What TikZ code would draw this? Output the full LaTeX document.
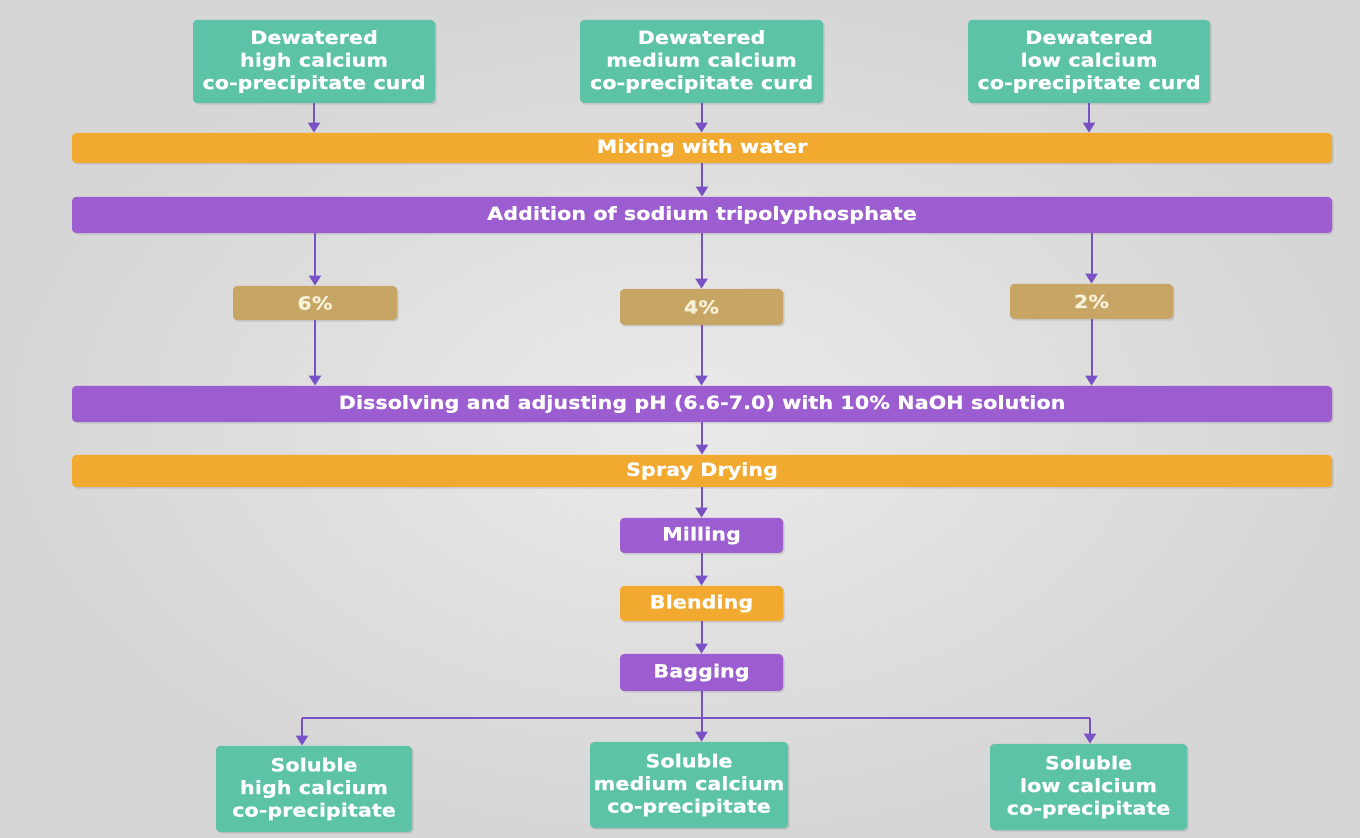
\documentclass[tikz,border=0pt]{standalone}
\usepackage{fontspec}
\setmainfont{DejaVu Sans}
\newfontfamily\boxfont[FakeStretch=1.14, BoldFeatures={FakeBold=0.6}]{DejaVu Sans}
\usetikzlibrary{arrows.meta,shadows}
\definecolor{bgin}{HTML}{EAEAEA}
\definecolor{bgout}{HTML}{D6D6D6}
\definecolor{greenc}{HTML}{5CC3A6}
\definecolor{orangec}{HTML}{F2A930}
\definecolor{purplec}{HTML}{9B5DCF}
\definecolor{tanc}{HTML}{C7A565}
\definecolor{arrowc}{HTML}{7852C4}
\definecolor{tantext}{HTML}{F7F1D6}
\tikzset{
  boxbase/.style={rounded corners=2pt, text=white, font=\boxfont\fontsize{9.1}{11.3}\selectfont\bfseries,
    align=center, inner sep=0pt,
    drop shadow={opacity=0.25, shadow xshift=0.8pt, shadow yshift=-0.8pt}},
  greenbox/.style={boxbase, fill=greenc},
  orangebox/.style={boxbase, fill=orangec},
  purplebox/.style={boxbase, fill=purplec},
  tanbox/.style={boxbase, fill=tanc, text=tantext},
  flow/.style={draw=arrowc, line width=1pt, -{Triangle[width=6pt,length=5pt]}},
  flowline/.style={draw=arrowc, line width=1pt}
}
\begin{document}
\begin{tikzpicture}[x=0.5pt,y=-0.5pt]
\useasboundingbox (0,0) rectangle (1360,838);
\shade[inner color=bgin, outer color=bgout] (0,0) rectangle (1360,838);

\node[greenbox, minimum width=121pt, minimum height=41.5pt] (b1) at (314,61.5) {Dewatered\\high calcium\\co-precipitate curd};
\node[greenbox, minimum width=121.5pt, minimum height=41.5pt] (b2) at (701.5,61.5) {Dewatered\\medium calcium\\co-precipitate curd};
\node[greenbox, minimum width=121pt, minimum height=41.5pt] (b3) at (1089,61.5) {Dewatered\\low calcium\\co-precipitate curd};

\node[orangebox, minimum width=630pt, minimum height=15pt] (mix) at (702,148) {Mixing with water};
\node[purplebox, minimum width=630pt, minimum height=18pt] (add) at (702,215) {Addition of sodium tripolyphosphate};

\node[tanbox, minimum width=82pt, minimum height=17pt] (t6) at (315,303) {6\%};
\node[tanbox, minimum width=81.5pt, minimum height=18pt] (t4) at (701.5,307) {4\%};
\node[tanbox, minimum width=81.5pt, minimum height=17.5pt] (t2) at (1091.5,301.5) {2\%};

\node[purplebox, minimum width=630pt, minimum height=18pt] (diss) at (702,404) {Dissolving and adjusting pH (6.6-7.0) with 10\% NaOH solution};
\node[orangebox, minimum width=630pt, minimum height=16pt] (spray) at (702,471) {Spray Drying};

\node[purplebox, minimum width=81.5pt, minimum height=17.5pt] (mill) at (701.5,535.5) {Milling};
\node[orangebox, minimum width=81.5pt, minimum height=17.5pt] (blend) at (701.5,603.5) {Blending};
\node[purplebox, minimum width=81.5pt, minimum height=18.5pt] (bag) at (701.5,672.5) {Bagging};

\node[greenbox, minimum width=98pt, minimum height=43pt] (s1) at (314,789) {Soluble\\high calcium\\co-precipitate};
\node[greenbox, minimum width=99pt, minimum height=43pt] (s2) at (689,785) {Soluble\\medium calcium\\co-precipitate};
\node[greenbox, minimum width=98.5pt, minimum height=43pt] (s3) at (1088.5,787) {Soluble\\low calcium\\co-precipitate};

% top arrows
\draw[flow] (b1.south) -- (b1.south |- mix.north);
\draw[flow] (b2.south) -- (b2.south |- mix.north);
\draw[flow] (b3.south) -- (b3.south |- mix.north);
\draw[flow] (mix.south) -- (add.north);

\draw[flow] (add.south -| t6.north) -- (t6.north);
\draw[flow] (add.south -| t4.north) -- (t4.north);
\draw[flow] (add.south -| t2.north) -- (t2.north);

\draw[flow] (t6.south) -- (t6.south |- diss.north);
\draw[flow] (t4.south) -- (t4.south |- diss.north);
\draw[flow] (t2.south) -- (t2.south |- diss.north);

\draw[flow] (diss.south) -- (spray.north);
\draw[flow] (spray.south -| mill.north) -- (mill.north);
\draw[flow] (mill.south) -- (blend.north);
\draw[flow] (blend.south) -- (bag.north);

\coordinate (jm) at (701.5,718);
\coordinate (jl) at (302,718);
\coordinate (jr) at (1090,718);
\draw[flowline] (bag.south) -- (jm);
\draw[flowline] (jl) -- (jr);
\draw[flow] (jl) -- (jl |- s1.north);
\draw[flow] (jm) -- (jm |- s2.north);
\draw[flow] (jr) -- (jr |- s3.north);
\end{tikzpicture}
\end{document}
